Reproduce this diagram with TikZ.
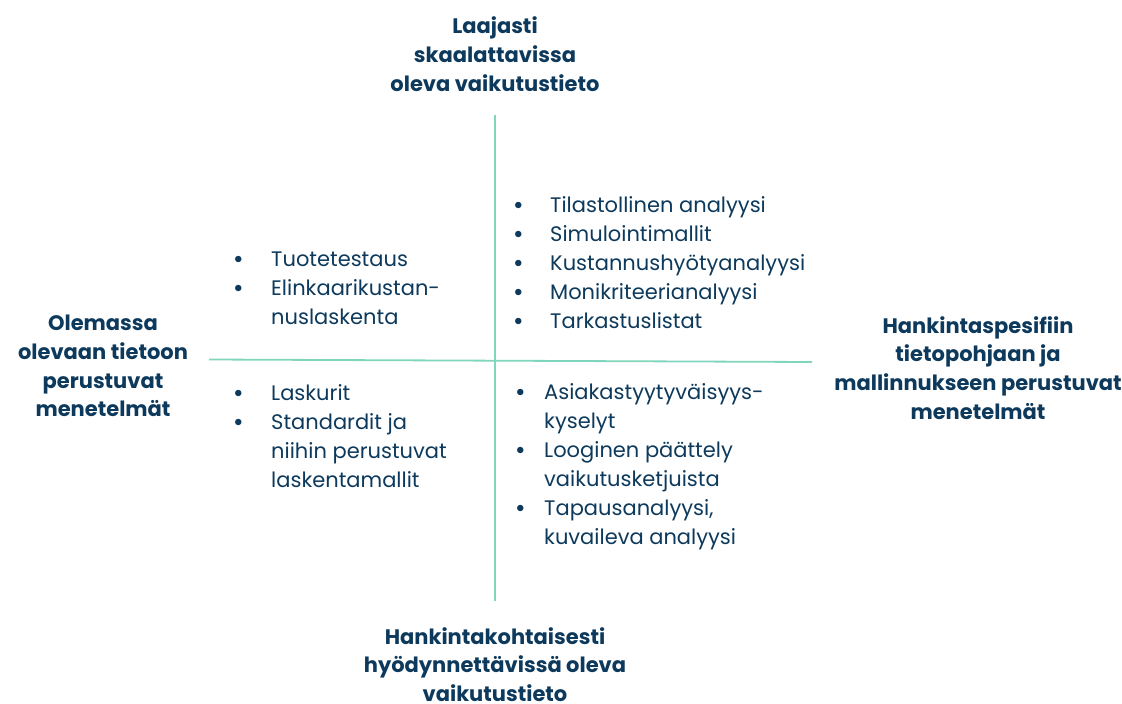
\documentclass[tikz,border=0pt]{standalone}
\usepackage{fontspec}
\setmainfont{Poppins}
\usepackage{array}
\usepackage{tikz}

\definecolor{navy}{HTML}{0D3A5C}
\definecolor{mint}{HTML}{80D5BD}

\tikzset{
    heading/.style={align=center, text=navy, font=\fontsize{21}{28.8}\selectfont\bfseries, inner sep=0pt},
    itemlist/.style={text=navy, font=\fontsize{21}{29}\selectfont, inner sep=0pt, anchor=base west},
    axis/.style={draw=mint, line width=1.8pt}
}

\newcommand{\bul}{\textbf{\textbullet}}

\begin{document}
\begin{tikzpicture}[x=1pt, y=-1pt]
        \useasboundingbox (0, 0) rectangle (1122, 704);

        % axes
        \coordinate (west) at (209, 359.5);
        \coordinate (east) at (812, 362);
        \coordinate (north) at (495, 115);
        \coordinate (south) at (495, 601);
        \draw[axis] (west) -- (east);
        \draw[axis] (north) -- (south);

        % headings at the ends of the axes
        \node[heading] (top) at (495, 54) {Laajasti\\skaalattavissa\\oleva vaikutustieto};
        \node[heading] (left) at (103, 366) {Olemassa\\olevaan tietoon\\perustuvat\\menetelmät};
        \node[heading] (right) at (978, 368) {Hankintaspesifiin\\tietopohjaan ja\\mallinnukseen perustuvat\\menetelmät};
        \node[heading] (bottom) at (495, 664.5) {Hankintakohtaisesti\\hyödynnettävissä oleva\\vaikutustieto};

        % quadrants
        \node[itemlist] (topleft) at (233, 266.5) {\begin{tabular}[t]{@{}p{38pt}@{}l@{}}
            \bul & Tuotetestaus\\
            \bul & Elinkaarikustan-\\
                 & nuslaskenta
        \end{tabular}};
        \node[itemlist] (topright) at (513, 212.5) {\begin{tabular}[t]{@{}p{37pt}@{}l@{}}
            \bul & Tilastollinen analyysi\\
            \bul & Simulointimallit\\
            \bul & Kustannushyötyanalyysi\\
            \bul & Monikriteerianalyysi\\
            \bul & Tarkastuslistat
        \end{tabular}};
        \node[itemlist] (bottomleft) at (233, 400.5) {\begin{tabular}[t]{@{}p{38pt}@{}l@{}}
            \bul & Laskurit\\
            \bul & Standardit ja\\
                 & niihin perustuvat\\
                 & laskentamallit
        \end{tabular}};
        \node[itemlist] (bottomright) at (515, 399.5) {\begin{tabular}[t]{@{}p{29pt}@{}l@{}}
            \bul & Asiakastyytyväisyys-\\
                 & kyselyt\\
            \bul & Looginen päättely\\
                 & vaikutusketjuista\\
            \bul & Tapausanalyysi,\\
                 & kuvaileva analyysi
        \end{tabular}};
    \end{tikzpicture}
\end{document}
